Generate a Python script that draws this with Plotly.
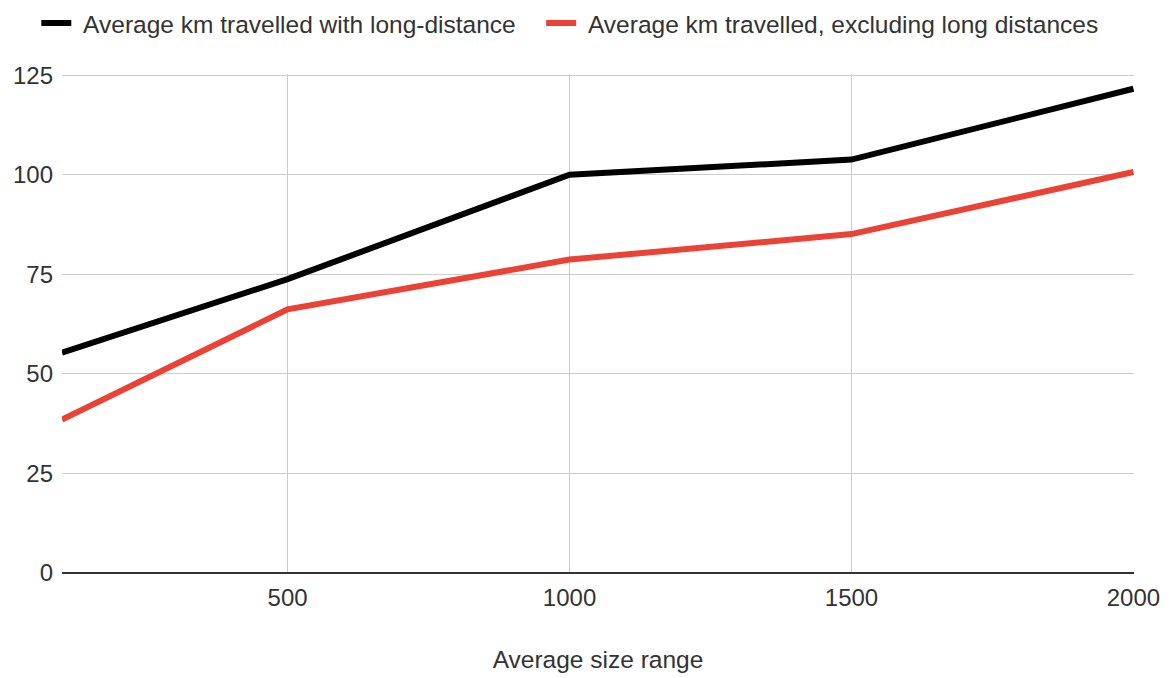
import plotly.graph_objects as go

# Average size range (x) and the two km series
size_range = [100, 500, 1000, 1500, 2000]
km_with_long = [55.3, 73.8, 100.0, 103.8, 121.6]
km_excl_long = [38.5, 66.2, 78.7, 85.1, 100.7]

series_names = [
    "Average km travelled with long-distance",
    "Average km travelled, excluding long distances",
]
y_ticks = [0, 25, 50, 75, 100, 125]
x_ticks = [500, 1000, 1500, 2000]

FONT = "Liberation Sans, Arial, sans-serif"
TEXT = "#333333"
NBSP = "\u00a0"

fig = go.Figure()
fig.add_trace(go.Scatter(
    x=size_range, y=km_with_long, mode="lines",
    name=NBSP + series_names[0] + NBSP * 3,
    line=dict(color="#000000", width=6),
))
fig.add_trace(go.Scatter(
    x=size_range, y=km_excl_long, mode="lines",
    name=NBSP + series_names[1],
    line=dict(color="#ea4335", width=6),
))

fig.update_layout(
    width=1171, height=678,
    margin=dict(l=62, r=37, t=74, b=105),
    paper_bgcolor="white", plot_bgcolor="white",
    font=dict(family=FONT, size=24, color=TEXT),
    showlegend=True,
    legend=dict(
        orientation="h", x=0.031, xanchor="left", xref="container",
        y=0.966, yanchor="middle", yref="container",
        font=dict(size=24.5, color=TEXT),
        itemwidth=30, bgcolor="rgba(0,0,0,0)",
    ),
    xaxis=dict(
        range=[100, 2001], tickvals=x_ticks, ticktext=[str(v) for v in x_ticks],
        showgrid=True, gridcolor="#cccccc", gridwidth=1,
        zeroline=False, showline=False, ticks="",
        ticklabelstandoff=8, automargin=False,
        title=dict(text="Average size range", standoff=40,
                   font=dict(size=24.5, color=TEXT)),
    ),
    yaxis=dict(
        range=[0, 125.3], tickvals=y_ticks, ticktext=[str(v) for v in y_ticks],
        showgrid=True, gridcolor="#cccccc", gridwidth=1,
        zeroline=True, zerolinecolor="#333333", zerolinewidth=2,
        showline=False, ticks="", ticklabelstandoff=8, automargin=False,
    ),
)

fig.write_html("out.html")
